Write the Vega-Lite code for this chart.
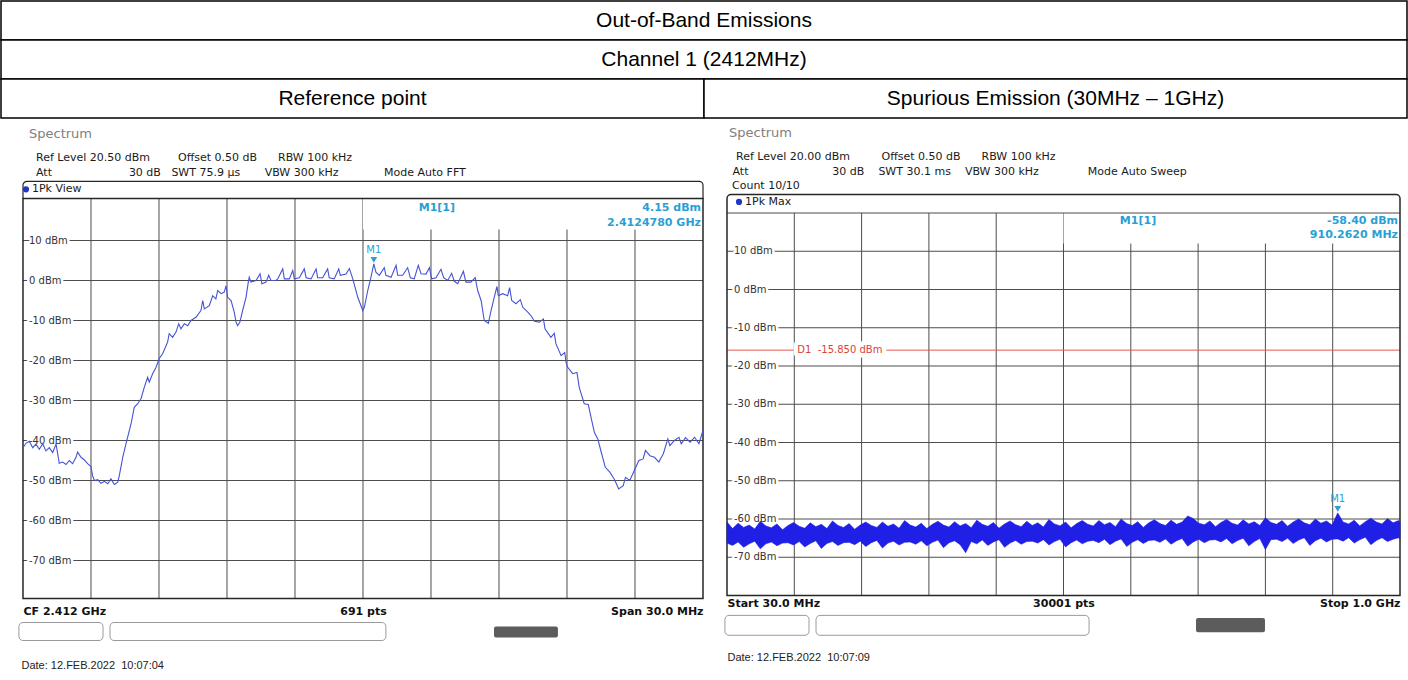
{
 "$schema": "https://vega.github.io/schema/vega-lite/v6.json",
 "background": "white",
 "padding": 0,
 "spacing": 7.5,
 "config": {"font": "DejaVu Sans", "view": {"stroke": null}},
 "datasets": {
  "cells": [
   {"row": "r1", "text": "Out-of-Band Emissions", "c0": 0, "c1": 2},
   {"row": "r2", "text": "Channel 1 (2412MHz)", "c0": 0, "c1": 2},
   {"row": "r3", "text": "Reference point", "c0": 0, "c1": 1},
   {"row": "r3", "text": "Spurious Emission (30MHz \u2013 1GHz)", "c0": 1, "c1": 2}
  ],
  "levels": [
   {"dbm": 10, "label": "10 dBm"}, {"dbm": 0, "label": "0 dBm"}, {"dbm": -10, "label": "-10 dBm"},
   {"dbm": -20, "label": "-20 dBm"}, {"dbm": -30, "label": "-30 dBm"}, {"dbm": -40, "label": "-40 dBm"},
   {"dbm": -50, "label": "-50 dBm"}, {"dbm": -60, "label": "-60 dBm"}, {"dbm": -70, "label": "-70 dBm"}
  ],
  "leftGrid": [{"f": 2400}, {"f": 2403}, {"f": 2406}, {"f": 2409}, {"f": 2412}, {"f": 2415}, {"f": 2418}, {"f": 2421}, {"f": 2424}],
  "rightGrid": [{"f": 127}, {"f": 224}, {"f": 321}, {"f": 418}, {"f": 515}, {"f": 612}, {"f": 709}, {"f": 806}, {"f": 903}],
  "leftMarker": [{"name": "M1", "f": 2412.478, "dbm": 4.15, "head": "M1[1]", "lvl": "4.15 dBm", "freq": "2.4124780 GHz"}],
  "rightMarker": [{"name": "M1", "f": 910.262, "dbm": -58.4, "head": "M1[1]", "lvl": "-58.40 dBm", "freq": "910.2620 MHz"}],
  "rightLine": [{"name": "D1", "dbm": -15.85, "label": "D1\u00a0\u00a0-15.850 dBm"}],
  "leftInfo": [{"trace": "1Pk View"}],
  "rightInfo": [{"trace": "1Pk Max", "count": "Count 10/10"}],
  "leftTrace": [
   {"f": 2397.00, "dbm": -41.8}, {"f": 2397.13, "dbm": -40.7}, {"f": 2397.28, "dbm": -40.2}, {"f": 2397.43, "dbm": -41.8},
   {"f": 2397.57, "dbm": -40.9}, {"f": 2397.72, "dbm": -42.2}, {"f": 2397.87, "dbm": -40.8}, {"f": 2398.01, "dbm": -42.6},
   {"f": 2398.16, "dbm": -41.8}, {"f": 2398.31, "dbm": -43.0}, {"f": 2398.46, "dbm": -40.9}, {"f": 2398.53, "dbm": -43.3},
   {"f": 2398.60, "dbm": -45.7}, {"f": 2398.75, "dbm": -45.4}, {"f": 2398.90, "dbm": -46.0}, {"f": 2399.04, "dbm": -45.0},
   {"f": 2399.19, "dbm": -45.8}, {"f": 2399.34, "dbm": -44.2}, {"f": 2399.41, "dbm": -42.9}, {"f": 2399.56, "dbm": -44.2},
   {"f": 2399.70, "dbm": -44.8}, {"f": 2399.85, "dbm": -45.8}, {"f": 2400.00, "dbm": -46.5}, {"f": 2400.07, "dbm": -48.8},
   {"f": 2400.15, "dbm": -50.0}, {"f": 2400.30, "dbm": -49.8}, {"f": 2400.44, "dbm": -50.7}, {"f": 2400.59, "dbm": -50.2},
   {"f": 2400.74, "dbm": -50.8}, {"f": 2400.88, "dbm": -49.6}, {"f": 2401.03, "dbm": -51.0}, {"f": 2401.18, "dbm": -50.4},
   {"f": 2401.25, "dbm": -48.8}, {"f": 2401.40, "dbm": -44.2}, {"f": 2401.54, "dbm": -40.9}, {"f": 2401.76, "dbm": -36.0},
   {"f": 2401.91, "dbm": -31.7}, {"f": 2402.06, "dbm": -30.8}, {"f": 2402.21, "dbm": -29.5}, {"f": 2402.35, "dbm": -26.7},
   {"f": 2402.50, "dbm": -24.2}, {"f": 2402.57, "dbm": -25.4}, {"f": 2402.72, "dbm": -23.3}, {"f": 2402.87, "dbm": -21.7},
   {"f": 2403.01, "dbm": -19.5}, {"f": 2403.16, "dbm": -18.3}, {"f": 2403.38, "dbm": -15.4}, {"f": 2403.45, "dbm": -13.3},
   {"f": 2403.60, "dbm": -14.2}, {"f": 2403.75, "dbm": -12.9}, {"f": 2403.87, "dbm": -10.8}, {"f": 2403.97, "dbm": -12.1},
   {"f": 2404.12, "dbm": -10.8}, {"f": 2404.27, "dbm": -11.3}, {"f": 2404.41, "dbm": -10.0}, {"f": 2404.63, "dbm": -9.2},
   {"f": 2404.85, "dbm": -7.5}, {"f": 2404.93, "dbm": -5.0}, {"f": 2405.00, "dbm": -7.1}, {"f": 2405.22, "dbm": -6.3},
   {"f": 2405.37, "dbm": -3.8}, {"f": 2405.51, "dbm": -4.6}, {"f": 2405.59, "dbm": -2.5}, {"f": 2405.74, "dbm": -3.3},
   {"f": 2405.88, "dbm": -2.9}, {"f": 2405.96, "dbm": -1.3}, {"f": 2406.03, "dbm": -4.2}, {"f": 2406.18, "dbm": -5.0},
   {"f": 2406.32, "dbm": -7.9}, {"f": 2406.40, "dbm": -10.4}, {"f": 2406.47, "dbm": -11.3}, {"f": 2406.57, "dbm": -10.4},
   {"f": 2406.69, "dbm": -7.5}, {"f": 2406.84, "dbm": -4.2}, {"f": 2406.94, "dbm": -0.4}, {"f": 2406.98, "dbm": 0.8},
   {"f": 2407.06, "dbm": -0.4}, {"f": 2407.28, "dbm": 0.0}, {"f": 2407.46, "dbm": 1.7}, {"f": 2407.54, "dbm": -0.8},
   {"f": 2407.72, "dbm": -0.4}, {"f": 2407.84, "dbm": 1.3}, {"f": 2407.94, "dbm": 0.0}, {"f": 2408.16, "dbm": 0.0},
   {"f": 2408.24, "dbm": 0.4}, {"f": 2408.46, "dbm": 2.9}, {"f": 2408.53, "dbm": 0.4}, {"f": 2408.75, "dbm": 0.4},
   {"f": 2408.90, "dbm": 2.5}, {"f": 2408.97, "dbm": 0.4}, {"f": 2409.19, "dbm": 0.7}, {"f": 2409.41, "dbm": 2.9},
   {"f": 2409.49, "dbm": 0.7}, {"f": 2409.71, "dbm": 0.4}, {"f": 2409.93, "dbm": 2.9}, {"f": 2410.00, "dbm": 0.7},
   {"f": 2410.22, "dbm": 0.7}, {"f": 2410.44, "dbm": 2.9}, {"f": 2410.51, "dbm": 0.7}, {"f": 2410.73, "dbm": 0.4},
   {"f": 2410.93, "dbm": 2.9}, {"f": 2411.00, "dbm": 1.3}, {"f": 2411.25, "dbm": 1.6}, {"f": 2411.40, "dbm": 3.0},
   {"f": 2411.55, "dbm": 0.4}, {"f": 2411.77, "dbm": -4.2}, {"f": 2411.99, "dbm": -7.5}, {"f": 2412.06, "dbm": -6.7},
   {"f": 2412.21, "dbm": -2.5}, {"f": 2412.35, "dbm": 0.8}, {"f": 2412.478, "dbm": 4.15}, {"f": 2412.57, "dbm": 2.1},
   {"f": 2412.72, "dbm": 1.3}, {"f": 2412.94, "dbm": 3.2}, {"f": 2413.01, "dbm": 1.3}, {"f": 2413.24, "dbm": 0.8},
   {"f": 2413.46, "dbm": 3.8}, {"f": 2413.53, "dbm": 1.3}, {"f": 2413.75, "dbm": 1.3}, {"f": 2413.97, "dbm": 3.2},
   {"f": 2414.09, "dbm": 0.7}, {"f": 2414.26, "dbm": 0.4}, {"f": 2414.44, "dbm": 3.8}, {"f": 2414.56, "dbm": 1.7},
   {"f": 2414.78, "dbm": 1.6}, {"f": 2414.93, "dbm": 3.2}, {"f": 2415.03, "dbm": 0.4}, {"f": 2415.22, "dbm": 0.7},
   {"f": 2415.44, "dbm": 2.8}, {"f": 2415.56, "dbm": 0.7}, {"f": 2415.74, "dbm": 0.0}, {"f": 2415.91, "dbm": 1.8},
   {"f": 2416.03, "dbm": -0.2}, {"f": 2416.18, "dbm": -0.8}, {"f": 2416.43, "dbm": 2.3}, {"f": 2416.54, "dbm": -0.4},
   {"f": 2416.76, "dbm": -0.4}, {"f": 2416.95, "dbm": 0.7}, {"f": 2417.06, "dbm": -2.5}, {"f": 2417.21, "dbm": -5.0},
   {"f": 2417.35, "dbm": -10.0}, {"f": 2417.53, "dbm": -10.7}, {"f": 2417.65, "dbm": -7.5}, {"f": 2417.79, "dbm": -4.2},
   {"f": 2417.91, "dbm": -1.5}, {"f": 2417.97, "dbm": -3.8}, {"f": 2418.16, "dbm": -3.3}, {"f": 2418.38, "dbm": -3.8},
   {"f": 2418.47, "dbm": -1.8}, {"f": 2418.56, "dbm": -5.0}, {"f": 2418.75, "dbm": -5.8}, {"f": 2418.94, "dbm": -4.8},
   {"f": 2419.05, "dbm": -6.7}, {"f": 2419.27, "dbm": -7.9}, {"f": 2419.44, "dbm": -9.0}, {"f": 2419.56, "dbm": -10.2},
   {"f": 2419.78, "dbm": -10.4}, {"f": 2419.96, "dbm": -9.6}, {"f": 2420.03, "dbm": -12.1}, {"f": 2420.29, "dbm": -14.2},
   {"f": 2420.44, "dbm": -13.2}, {"f": 2420.51, "dbm": -15.8}, {"f": 2420.74, "dbm": -18.8}, {"f": 2420.90, "dbm": -18.0},
   {"f": 2420.96, "dbm": -20.5}, {"f": 2421.03, "dbm": -21.7}, {"f": 2421.25, "dbm": -23.3}, {"f": 2421.44, "dbm": -23.0},
   {"f": 2421.54, "dbm": -26.7}, {"f": 2421.76, "dbm": -30.8}, {"f": 2421.94, "dbm": -31.0}, {"f": 2422.06, "dbm": -34.2},
   {"f": 2422.21, "dbm": -38.0}, {"f": 2422.36, "dbm": -39.6}, {"f": 2422.49, "dbm": -42.5}, {"f": 2422.69, "dbm": -46.7},
   {"f": 2422.89, "dbm": -47.9}, {"f": 2423.08, "dbm": -49.6}, {"f": 2423.18, "dbm": -50.8}, {"f": 2423.28, "dbm": -52.1},
   {"f": 2423.48, "dbm": -51.3}, {"f": 2423.58, "dbm": -49.2}, {"f": 2423.77, "dbm": -50.0}, {"f": 2423.97, "dbm": -47.5},
   {"f": 2424.17, "dbm": -45.0}, {"f": 2424.36, "dbm": -44.6}, {"f": 2424.46, "dbm": -42.5}, {"f": 2424.66, "dbm": -43.8},
   {"f": 2424.86, "dbm": -44.2}, {"f": 2425.05, "dbm": -45.4}, {"f": 2425.25, "dbm": -43.3}, {"f": 2425.45, "dbm": -39.6},
   {"f": 2425.54, "dbm": -41.3}, {"f": 2425.74, "dbm": -40.0}, {"f": 2425.94, "dbm": -39.2}, {"f": 2426.04, "dbm": -40.8},
   {"f": 2426.23, "dbm": -39.3}, {"f": 2426.43, "dbm": -40.4}, {"f": 2426.63, "dbm": -39.2}, {"f": 2426.82, "dbm": -40.8},
   {"f": 2427.00, "dbm": -37.5}
  ],
  "rightTrace": [
   {"f": 30, "hi": -60.8, "lo": -66.3}, {"f": 38, "hi": -62.5, "lo": -66.9}, {"f": 46, "hi": -61.1, "lo": -66.0}, {"f": 54, "hi": -62.2, "lo": -67.4},
   {"f": 62, "hi": -61.6, "lo": -66.5}, {"f": 70, "hi": -62.6, "lo": -65.8}, {"f": 78, "hi": -60.6, "lo": -67.8}, {"f": 86, "hi": -61.8, "lo": -66.5},
   {"f": 94, "hi": -62.3, "lo": -66.0}, {"f": 102, "hi": -61.3, "lo": -67.0}, {"f": 110, "hi": -62.8, "lo": -66.3}, {"f": 118, "hi": -61.7, "lo": -66.2},
   {"f": 126, "hi": -60.9, "lo": -66.8}, {"f": 134, "hi": -61.9, "lo": -65.9}, {"f": 142, "hi": -62.4, "lo": -67.3}, {"f": 150, "hi": -61.0, "lo": -66.4},
   {"f": 158, "hi": -62.0, "lo": -65.7}, {"f": 166, "hi": -61.4, "lo": -67.7}, {"f": 174, "hi": -62.5, "lo": -66.4}, {"f": 182, "hi": -60.5, "lo": -65.9},
   {"f": 190, "hi": -61.7, "lo": -66.9}, {"f": 198, "hi": -62.2, "lo": -66.2}, {"f": 206, "hi": -61.2, "lo": -66.1}, {"f": 214, "hi": -62.7, "lo": -66.7},
   {"f": 222, "hi": -61.6, "lo": -65.8}, {"f": 230, "hi": -60.8, "lo": -67.2}, {"f": 238, "hi": -61.7, "lo": -66.2}, {"f": 246, "hi": -62.2, "lo": -65.6},
   {"f": 254, "hi": -60.8, "lo": -67.6}, {"f": 262, "hi": -61.9, "lo": -66.3}, {"f": 270, "hi": -61.3, "lo": -65.8}, {"f": 278, "hi": -62.4, "lo": -66.8},
   {"f": 286, "hi": -60.4, "lo": -66.1}, {"f": 294, "hi": -61.6, "lo": -66.0}, {"f": 302, "hi": -62.1, "lo": -66.6}, {"f": 310, "hi": -61.1, "lo": -65.7},
   {"f": 318, "hi": -62.5, "lo": -67.0}, {"f": 326, "hi": -61.4, "lo": -66.1}, {"f": 334, "hi": -60.6, "lo": -65.5}, {"f": 342, "hi": -61.6, "lo": -67.5},
   {"f": 350, "hi": -62.1, "lo": -66.2}, {"f": 358, "hi": -60.7, "lo": -65.7}, {"f": 366, "hi": -61.8, "lo": -66.7}, {"f": 374, "hi": -61.2, "lo": -68.8},
   {"f": 382, "hi": -62.3, "lo": -65.9}, {"f": 390, "hi": -60.3, "lo": -66.5}, {"f": 398, "hi": -61.4, "lo": -65.5}, {"f": 406, "hi": -61.9, "lo": -66.9},
   {"f": 414, "hi": -60.9, "lo": -66.0}, {"f": 422, "hi": -62.4, "lo": -65.4}, {"f": 430, "hi": -61.3, "lo": -67.4}, {"f": 438, "hi": -60.5, "lo": -66.3},
   {"f": 446, "hi": -61.5, "lo": -65.6}, {"f": 454, "hi": -62.0, "lo": -66.6}, {"f": 462, "hi": -60.6, "lo": -65.9}, {"f": 470, "hi": -61.7, "lo": -65.8},
   {"f": 478, "hi": -61.0, "lo": -66.3}, {"f": 486, "hi": -62.1, "lo": -65.4}, {"f": 494, "hi": -60.1, "lo": -66.8}, {"f": 502, "hi": -61.3, "lo": -65.9},
   {"f": 510, "hi": -61.8, "lo": -65.3}, {"f": 518, "hi": -60.8, "lo": -67.3}, {"f": 526, "hi": -62.3, "lo": -66.2}, {"f": 534, "hi": -61.2, "lo": -65.5},
   {"f": 542, "hi": -60.4, "lo": -66.5}, {"f": 550, "hi": -61.4, "lo": -65.8}, {"f": 558, "hi": -61.8, "lo": -65.6}, {"f": 566, "hi": -60.4, "lo": -66.2},
   {"f": 574, "hi": -61.5, "lo": -65.3}, {"f": 582, "hi": -60.9, "lo": -66.7}, {"f": 590, "hi": -62.0, "lo": -65.8}, {"f": 598, "hi": -60.0, "lo": -65.2},
   {"f": 606, "hi": -61.2, "lo": -67.2}, {"f": 614, "hi": -61.7, "lo": -66.1}, {"f": 622, "hi": -60.7, "lo": -65.4}, {"f": 630, "hi": -62.2, "lo": -66.4},
   {"f": 638, "hi": -61.0, "lo": -65.6}, {"f": 646, "hi": -60.2, "lo": -65.5}, {"f": 654, "hi": -61.2, "lo": -66.1}, {"f": 662, "hi": -61.7, "lo": -65.2},
   {"f": 670, "hi": -60.3, "lo": -66.6}, {"f": 678, "hi": -61.4, "lo": -65.7}, {"f": 686, "hi": -60.8, "lo": -65.1}, {"f": 694, "hi": -59.2, "lo": -67.1},
   {"f": 702, "hi": -59.9, "lo": -66.0}, {"f": 710, "hi": -61.1, "lo": -65.3}, {"f": 718, "hi": -61.5, "lo": -66.2}, {"f": 726, "hi": -60.5, "lo": -65.5},
   {"f": 734, "hi": -62.0, "lo": -65.4}, {"f": 742, "hi": -60.9, "lo": -66.0}, {"f": 750, "hi": -60.1, "lo": -65.1}, {"f": 758, "hi": -61.1, "lo": -66.5},
   {"f": 766, "hi": -61.6, "lo": -65.6}, {"f": 774, "hi": -60.2, "lo": -65.0}, {"f": 782, "hi": -61.3, "lo": -67.0}, {"f": 790, "hi": -60.7, "lo": -65.9},
   {"f": 798, "hi": -61.7, "lo": -65.1}, {"f": 806, "hi": -59.7, "lo": -68.0}, {"f": 814, "hi": -60.9, "lo": -65.4}, {"f": 822, "hi": -61.4, "lo": -65.3},
   {"f": 830, "hi": -60.4, "lo": -65.9}, {"f": 838, "hi": -61.9, "lo": -65.0}, {"f": 846, "hi": -60.8, "lo": -66.4}, {"f": 854, "hi": -60.0, "lo": -65.5},
   {"f": 862, "hi": -61.0, "lo": -64.9}, {"f": 870, "hi": -61.5, "lo": -66.9}, {"f": 878, "hi": -60.0, "lo": -65.7}, {"f": 886, "hi": -61.1, "lo": -65.0},
   {"f": 894, "hi": -60.5, "lo": -66.0}, {"f": 902, "hi": -61.6, "lo": -65.3}, {"f": 910.262, "hi": -58.4, "lo": -65.2}, {"f": 918, "hi": -60.8, "lo": -65.8},
   {"f": 926, "hi": -61.3, "lo": -64.9}, {"f": 934, "hi": -60.3, "lo": -66.3}, {"f": 942, "hi": -61.8, "lo": -65.4}, {"f": 950, "hi": -60.7, "lo": -64.8},
   {"f": 958, "hi": -59.8, "lo": -66.7}, {"f": 966, "hi": -60.8, "lo": -65.6}, {"f": 974, "hi": -61.3, "lo": -64.9}, {"f": 982, "hi": -59.9, "lo": -65.9},
   {"f": 990, "hi": -61.0, "lo": -65.3}, {"f": 998, "hi": -60.4, "lo": -64.9}, {"f": 1000, "hi": -60.8, "lo": -65.3}
  ]
 },
 "vconcat": [
  {
   "width": 1406,
   "height": 117,
   "data": {"name": "cells"},
   "transform": [{"calculate": "(datum.c0 + datum.c1) / 2", "as": "cx"}],
   "layer": [
    {"mark": {"type": "rect", "fill": "white", "stroke": "black", "strokeWidth": 1.5},
     "encoding": {
      "x": {"field": "c0", "type": "quantitative", "scale": {"domain": [0, 2], "nice": false, "zero": false}, "axis": null},
      "x2": {"field": "c1"},
      "y": {"field": "row", "type": "nominal", "scale": {"paddingInner": 0, "paddingOuter": 0}, "axis": null}
     }},
    {"mark": {"type": "text", "font": "Liberation Sans", "fontSize": 21, "color": "black", "baseline": "middle", "align": "center"},
     "encoding": {
      "x": {"field": "cx", "type": "quantitative", "scale": {"domain": [0, 2], "nice": false, "zero": false}, "axis": null},
      "y": {"field": "row", "type": "nominal", "axis": null},
      "text": {"field": "text"}
     }}
   ]
  },
  {
   "spacing": 5,
   "hconcat": [
    {
     "width": 702,
     "height": 418,
     "title": {
      "text": "Spectrum",
      "subtitle": [
       "\u200b\u00a0\u00a0Ref Level 20.50 dBm\u00a0\u00a0\u00a0\u00a0\u00a0\u00a0\u00a0\u00a0Offset 0.50 dB\u00a0\u00a0\u00a0\u00a0\u00a0\u00a0RBW 100 kHz",
       "\u200b\u00a0\u00a0Att\u00a0\u00a0\u00a0\u00a0\u00a0\u00a0\u00a0\u00a0\u00a0\u00a0\u00a0\u00a0\u00a0\u00a0\u00a0\u00a0\u00a0\u00a0\u00a0\u00a0\u00a0\u00a030 dB\u00a0\u00a0\u00a0SWT 75.9 \u00b5s\u00a0\u00a0\u00a0\u00a0\u00a0\u00a0\u00a0VBW 300 kHz\u00a0\u00a0\u00a0\u00a0\u00a0\u00a0\u00a0\u00a0\u00a0\u00a0\u00a0\u00a0\u00a0Mode Auto FFT"
      ],
      "anchor": "start", "frame": "group", "dx": 28, "offset": 3,
      "font": "DejaVu Sans", "fontSize": 13, "fontWeight": "normal", "color": "#808080",
      "subtitleFont": "DejaVu Sans", "subtitleFontSize": 11, "subtitleColor": "#1a1a1a",
      "subtitleLineHeight": 14.5, "subtitlePadding": 11
     },
     "layer": [
      {"data": {"name": "leftGrid"}, "mark": {"type": "rule", "color": "#4d4d4d", "strokeWidth": 1},
       "encoding": {
        "x": {"field": "f", "type": "quantitative", "scale": {"domain": [2396.03, 2427], "nice": false, "zero": false},
         "axis": {"values": [2397, 2412, 2427], "labelExpr": "datum.value == 2397 ? 'CF 2.412 GHz' : (datum.value == 2412 ? '691 pts' : 'Span 30.0 MHz')",
          "labelFlush": 30, "labelOverlap": false, "labelFont": "DejaVu Sans", "labelFontWeight": "bold", "labelFontSize": 11, "labelColor": "#111111", "labelPadding": 7,
          "ticks": false, "domain": false, "grid": false,
          "title": "Date: 12.FEB.2022\u00a0\u00a010:07:04", "titleFont": "Liberation Sans", "titleFontSize": 11, "titleFontWeight": "normal", "titleColor": "#222222",
          "titleAnchor": "start", "titleAlign": "left", "titleX": 20, "titlePadding": 43}},
        "y": {"datum": 20.5, "type": "quantitative", "scale": {"domain": [-79.5, 25], "nice": false, "zero": false},
         "axis": {"title": null, "labels": false, "ticks": false, "domain": false, "grid": false, "minExtent": 0, "maxExtent": 0}},
        "y2": {"datum": -79.5}
       }},
      {"data": {"name": "levels"}, "mark": {"type": "rule", "color": "#4d4d4d", "strokeWidth": 1},
       "encoding": {
        "x": {"datum": 2397, "type": "quantitative", "scale": {"domain": [2396.03, 2427], "nice": false, "zero": false}},
        "x2": {"datum": 2427},
        "y": {"field": "dbm", "type": "quantitative", "scale": {"domain": [-79.5, 25], "nice": false, "zero": false}}}},
      {"data": {"values": [{}]}, "mark": {"type": "rect", "color": "white"},
       "encoding": {
        "x": {"datum": 2412, "type": "quantitative", "scale": {"domain": [2396.03, 2427], "nice": false, "zero": false}},
        "x2": {"datum": 2427},
        "y": {"datum": 20.5, "type": "quantitative", "scale": {"domain": [-79.5, 25], "nice": false, "zero": false}},
        "y2": {"datum": 12.75}
       }},
      {"data": {"values": [{}]}, "mark": {"type": "rect", "fill": "white", "fillOpacity": 0, "stroke": "#262626", "strokeWidth": 1.5},
       "encoding": {
        "x": {"datum": 2397, "type": "quantitative", "scale": {"domain": [2396.03, 2427], "nice": false, "zero": false}},
        "x2": {"datum": 2427},
        "y": {"datum": 20.5, "type": "quantitative", "scale": {"domain": [-79.5, 25], "nice": false, "zero": false}},
        "y2": {"datum": -79.5}
       }},
      {"data": {"values": [{}]}, "mark": {"type": "rect", "fill": "white", "fillOpacity": 0, "stroke": "#262626", "strokeWidth": 1.2, "cornerRadiusTopLeft": 4, "cornerRadiusTopRight": 4},
       "encoding": {
        "x": {"datum": 2397, "type": "quantitative", "scale": {"domain": [2396.03, 2427], "nice": false, "zero": false}},
        "x2": {"datum": 2427},
        "y": {"datum": 24.8, "type": "quantitative", "scale": {"domain": [-79.5, 25], "nice": false, "zero": false}},
        "y2": {"datum": 20.5}
       }},
      {"data": {"values": [{}]}, "mark": {"type": "rect", "fill": "white", "stroke": "#9a9a9a", "strokeWidth": 1, "cornerRadius": 4},
       "encoding": {
        "x": {"datum": 2396.82, "type": "quantitative", "scale": {"domain": [2396.03, 2427], "nice": false, "zero": false}},
        "x2": {"datum": 2400.53},
        "y": {"datum": -85.5, "type": "quantitative", "scale": {"domain": [-79.5, 25], "nice": false, "zero": false}},
        "y2": {"datum": -90}
       }},
      {"data": {"values": [{}]}, "mark": {"type": "rect", "fill": "white", "stroke": "#9a9a9a", "strokeWidth": 1, "cornerRadius": 4},
       "encoding": {
        "x": {"datum": 2400.84, "type": "quantitative", "scale": {"domain": [2396.03, 2427], "nice": false, "zero": false}},
        "x2": {"datum": 2413.01},
        "y": {"datum": -85.5, "type": "quantitative", "scale": {"domain": [-79.5, 25], "nice": false, "zero": false}},
        "y2": {"datum": -90}
       }},
      {"data": {"values": [{}]}, "mark": {"type": "rect", "fill": "#5c5c5c", "cornerRadius": 2},
       "encoding": {
        "x": {"datum": 2417.78, "type": "quantitative", "scale": {"domain": [2396.03, 2427], "nice": false, "zero": false}},
        "x2": {"datum": 2420.6},
        "y": {"datum": -86.5, "type": "quantitative", "scale": {"domain": [-79.5, 25], "nice": false, "zero": false}},
        "y2": {"datum": -89.25}
       }},
      {"data": {"name": "leftInfo"}, "mark": {"type": "point", "shape": "circle", "filled": true, "size": 38, "color": "#2434c8", "opacity": 1, "xOffset": 3},
       "encoding": {
        "x": {"datum": 2397, "type": "quantitative", "scale": {"domain": [2396.03, 2427], "nice": false, "zero": false}},
        "y": {"datum": 22.8, "type": "quantitative", "scale": {"domain": [-79.5, 25], "nice": false, "zero": false}}
       }},
      {"data": {"name": "leftInfo"}, "mark": {"type": "text", "align": "left", "baseline": "middle", "dx": 9, "fontSize": 11, "color": "#1a1a1a"},
       "encoding": {
        "x": {"datum": 2397, "type": "quantitative", "scale": {"domain": [2396.03, 2427], "nice": false, "zero": false}},
        "y": {"datum": 22.8, "type": "quantitative", "scale": {"domain": [-79.5, 25], "nice": false, "zero": false}},
        "text": {"field": "trace"}
       }},
      {"data": {"name": "levels"}, "mark": {"type": "text", "align": "left", "baseline": "middle", "dx": 6, "fontSize": 10, "fill": "white", "stroke": "white", "strokeWidth": 5, "strokeJoin": "round"},
       "encoding": {
        "x": {"datum": 2397, "type": "quantitative", "scale": {"domain": [2396.03, 2427], "nice": false, "zero": false}},
        "y": {"field": "dbm", "type": "quantitative", "scale": {"domain": [-79.5, 25], "nice": false, "zero": false}},
        "text": {"field": "label"}
       }},
      {"data": {"name": "levels"}, "mark": {"type": "text", "align": "left", "baseline": "middle", "dx": 6, "fontSize": 10, "color": "#333333"},
       "encoding": {
        "x": {"datum": 2397, "type": "quantitative", "scale": {"domain": [2396.03, 2427], "nice": false, "zero": false}},
        "y": {"field": "dbm", "type": "quantitative", "scale": {"domain": [-79.5, 25], "nice": false, "zero": false}},
        "text": {"field": "label"}
       }},
      {"data": {"name": "leftTrace"}, "mark": {"type": "line", "color": "#4653d4", "strokeWidth": 1.1, "interpolate": "linear"},
       "encoding": {
        "x": {"field": "f", "type": "quantitative", "scale": {"domain": [2396.03, 2427], "nice": false, "zero": false}},
        "y": {"field": "dbm", "type": "quantitative", "scale": {"domain": [-79.5, 25], "nice": false, "zero": false}}
       }},
      {"data": {"name": "leftMarker"}, "mark": {"type": "point", "shape": "triangle-down", "filled": true, "size": 45, "color": "#2a9fd6", "opacity": 1, "yOffset": -4},
       "encoding": {
        "x": {"field": "f", "type": "quantitative", "scale": {"domain": [2396.03, 2427], "nice": false, "zero": false}},
        "y": {"field": "dbm", "type": "quantitative", "scale": {"domain": [-79.5, 25], "nice": false, "zero": false}}
       }},
      {"data": {"name": "leftMarker"}, "mark": {"type": "text", "color": "#2a9fd6", "fontSize": 10, "dy": -14, "align": "center"},
       "encoding": {
        "x": {"field": "f", "type": "quantitative", "scale": {"domain": [2396.03, 2427], "nice": false, "zero": false}},
        "y": {"field": "dbm", "type": "quantitative", "scale": {"domain": [-79.5, 25], "nice": false, "zero": false}},
        "text": {"field": "name"}
       }},
      {"data": {"name": "leftMarker"}, "mark": {"type": "text", "color": "#2a9fd6", "fontSize": 11, "fontWeight": "bold", "align": "center", "baseline": "middle"},
       "encoding": {
        "x": {"datum": 2415.26, "type": "quantitative", "scale": {"domain": [2396.03, 2427], "nice": false, "zero": false}},
        "y": {"datum": 18.25, "type": "quantitative", "scale": {"domain": [-79.5, 25], "nice": false, "zero": false}},
        "text": {"field": "head"}
       }},
      {"data": {"name": "leftMarker"}, "mark": {"type": "text", "color": "#2a9fd6", "fontSize": 11, "fontWeight": "bold", "align": "right", "baseline": "middle", "dx": -2},
       "encoding": {
        "x": {"datum": 2427, "type": "quantitative", "scale": {"domain": [2396.03, 2427], "nice": false, "zero": false}},
        "y": {"datum": 18.25, "type": "quantitative", "scale": {"domain": [-79.5, 25], "nice": false, "zero": false}},
        "text": {"field": "lvl"}
       }},
      {"data": {"name": "leftMarker"}, "mark": {"type": "text", "color": "#2a9fd6", "fontSize": 11, "fontWeight": "bold", "align": "right", "baseline": "middle", "dx": -2},
       "encoding": {
        "x": {"datum": 2427, "type": "quantitative", "scale": {"domain": [2396.03, 2427], "nice": false, "zero": false}},
        "y": {"datum": 14.5, "type": "quantitative", "scale": {"domain": [-79.5, 25], "nice": false, "zero": false}},
        "text": {"field": "freq"}
       }}
     ]
    },
    {
     "width": 673,
     "height": 415,
     "title": {
      "text": "Spectrum",
      "subtitle": [
       "\u200b\u00a0\u00a0Ref Level 20.00 dBm\u00a0\u00a0\u00a0\u00a0\u00a0\u00a0\u00a0\u00a0\u00a0Offset 0.50 dB\u00a0\u00a0\u00a0\u00a0\u00a0\u00a0RBW 100 kHz",
       "\u200b\u00a0Att\u00a0\u00a0\u00a0\u00a0\u00a0\u00a0\u00a0\u00a0\u00a0\u00a0\u00a0\u00a0\u00a0\u00a0\u00a0\u00a0\u00a0\u00a0\u00a0\u00a0\u00a0\u00a0\u00a0\u00a030 dB\u00a0\u00a0\u00a0\u00a0SWT 30.1 ms\u00a0\u00a0\u00a0\u00a0VBW 300 kHz\u00a0\u00a0\u00a0\u00a0\u00a0\u00a0\u00a0\u00a0\u00a0\u00a0\u00a0\u00a0\u00a0\u00a0Mode Auto Sweep"
      ],
      "anchor": "start", "frame": "group", "dx": 2, "offset": 3,
      "font": "DejaVu Sans", "fontSize": 13, "fontWeight": "normal", "color": "#808080",
      "subtitleFont": "DejaVu Sans", "subtitleFontSize": 11, "subtitleColor": "#1a1a1a",
      "subtitleLineHeight": 14.5, "subtitlePadding": 11
     },
     "layer": [
      {"data": {"name": "rightGrid"}, "mark": {"type": "rule", "color": "#4d4d4d", "strokeWidth": 1},
       "encoding": {
        "x": {"field": "f", "type": "quantitative", "scale": {"domain": [30, 1000], "nice": false, "zero": false},
         "axis": {"values": [30, 515, 1000], "labelExpr": "datum.value == 30 ? 'Start 30.0 MHz' : (datum.value == 515 ? '30001 pts' : 'Stop 1.0 GHz')",
          "labelFlush": true, "labelOverlap": false, "labelFont": "DejaVu Sans", "labelFontWeight": "bold", "labelFontSize": 11, "labelColor": "#111111", "labelPadding": 2,
          "ticks": false, "domain": false, "grid": false,
          "title": "Date: 12.FEB.2022\u00a0\u00a010:07:09", "titleFont": "Liberation Sans", "titleFontSize": 11, "titleFontWeight": "normal", "titleColor": "#222222",
          "titleAnchor": "start", "titleAlign": "left", "titlePadding": 43}},
        "y": {"datum": 20, "type": "quantitative", "scale": {"domain": [-80, 28.5], "nice": false, "zero": false},
         "axis": {"title": null, "labels": false, "ticks": false, "domain": false, "grid": false, "minExtent": 16, "maxExtent": 16}},
        "y2": {"datum": -80}
       }},
      {"data": {"name": "levels"}, "mark": {"type": "rule", "color": "#4d4d4d", "strokeWidth": 1},
       "encoding": {
        "x": {"datum": 30, "type": "quantitative", "scale": {"domain": [30, 1000], "nice": false, "zero": false}},
        "x2": {"datum": 1000},
        "y": {"field": "dbm", "type": "quantitative", "scale": {"domain": [-80, 28.5], "nice": false, "zero": false}}}},
      {"data": {"name": "rightLine"}, "mark": {"type": "rule", "color": "#e4574e", "strokeWidth": 1},
       "encoding": {
        "x": {"datum": 30, "type": "quantitative", "scale": {"domain": [30, 1000], "nice": false, "zero": false}},
        "x2": {"datum": 1000},
        "y": {"field": "dbm", "type": "quantitative", "scale": {"domain": [-80, 28.5], "nice": false, "zero": false}}}},
      {"data": {"values": [{}]}, "mark": {"type": "rect", "color": "white"},
       "encoding": {
        "x": {"datum": 515, "type": "quantitative", "scale": {"domain": [30, 1000], "nice": false, "zero": false}},
        "x2": {"datum": 1000},
        "y": {"datum": 20, "type": "quantitative", "scale": {"domain": [-80, 28.5], "nice": false, "zero": false}},
        "y2": {"datum": 12}
       }},
      {"data": {"values": [{}]}, "mark": {"type": "rule", "color": "#4d4d4d", "strokeWidth": 1},
       "encoding": {
        "x": {"datum": 30, "type": "quantitative", "scale": {"domain": [30, 1000], "nice": false, "zero": false}},
        "x2": {"datum": 1000},
        "y": {"datum": 20, "type": "quantitative", "scale": {"domain": [-80, 28.5], "nice": false, "zero": false}}}},
      {"data": {"values": [{}]}, "mark": {"type": "rect", "fill": "white", "fillOpacity": 0, "stroke": "#262626", "strokeWidth": 1.5, "cornerRadiusTopLeft": 4, "cornerRadiusTopRight": 4},
       "encoding": {
        "x": {"datum": 30, "type": "quantitative", "scale": {"domain": [30, 1000], "nice": false, "zero": false}},
        "x2": {"datum": 1000},
        "y": {"datum": 24.84, "type": "quantitative", "scale": {"domain": [-80, 28.5], "nice": false, "zero": false}},
        "y2": {"datum": -80}
       }},
      {"data": {"values": [{}]}, "mark": {"type": "rect", "fill": "white", "stroke": "#9a9a9a", "strokeWidth": 1, "cornerRadius": 4},
       "encoding": {
        "x": {"datum": 27, "type": "quantitative", "scale": {"domain": [30, 1000], "nice": false, "zero": false}},
        "x2": {"datum": 148.2},
        "y": {"datum": -85.2, "type": "quantitative", "scale": {"domain": [-80, 28.5], "nice": false, "zero": false}},
        "y2": {"datum": -90.4}
       }},
      {"data": {"values": [{}]}, "mark": {"type": "rect", "fill": "white", "stroke": "#9a9a9a", "strokeWidth": 1, "cornerRadius": 4},
       "encoding": {
        "x": {"datum": 158.3, "type": "quantitative", "scale": {"domain": [30, 1000], "nice": false, "zero": false}},
        "x2": {"datum": 551.8},
        "y": {"datum": -85.2, "type": "quantitative", "scale": {"domain": [-80, 28.5], "nice": false, "zero": false}},
        "y2": {"datum": -90.4}
       }},
      {"data": {"values": [{}]}, "mark": {"type": "rect", "fill": "#5c5c5c", "cornerRadius": 2},
       "encoding": {
        "x": {"datum": 706, "type": "quantitative", "scale": {"domain": [30, 1000], "nice": false, "zero": false}},
        "x2": {"datum": 805.4},
        "y": {"datum": -85.9, "type": "quantitative", "scale": {"domain": [-80, 28.5], "nice": false, "zero": false}},
        "y2": {"datum": -89.6}
       }},
      {"data": {"name": "rightInfo"}, "mark": {"type": "text", "align": "left", "baseline": "middle", "dx": 5, "fontSize": 11, "color": "#1a1a1a"},
       "encoding": {
        "x": {"datum": 30, "type": "quantitative", "scale": {"domain": [30, 1000], "nice": false, "zero": false}},
        "y": {"datum": 27.19, "type": "quantitative", "scale": {"domain": [-80, 28.5], "nice": false, "zero": false}},
        "text": {"field": "count"}
       }},
      {"data": {"name": "rightInfo"}, "mark": {"type": "point", "shape": "circle", "filled": true, "size": 38, "color": "#2434c8", "opacity": 1, "xOffset": 12},
       "encoding": {
        "x": {"datum": 30, "type": "quantitative", "scale": {"domain": [30, 1000], "nice": false, "zero": false}},
        "y": {"datum": 22.9, "type": "quantitative", "scale": {"domain": [-80, 28.5], "nice": false, "zero": false}}
       }},
      {"data": {"name": "rightInfo"}, "mark": {"type": "text", "align": "left", "baseline": "middle", "dx": 18, "fontSize": 11, "color": "#1a1a1a"},
       "encoding": {
        "x": {"datum": 30, "type": "quantitative", "scale": {"domain": [30, 1000], "nice": false, "zero": false}},
        "y": {"datum": 22.9, "type": "quantitative", "scale": {"domain": [-80, 28.5], "nice": false, "zero": false}},
        "text": {"field": "trace"}
       }},
      {"data": {"name": "levels"}, "mark": {"type": "text", "align": "left", "baseline": "middle", "dx": 7, "fontSize": 10, "fill": "white", "stroke": "white", "strokeWidth": 5, "strokeJoin": "round"},
       "encoding": {
        "x": {"datum": 30, "type": "quantitative", "scale": {"domain": [30, 1000], "nice": false, "zero": false}},
        "y": {"field": "dbm", "type": "quantitative", "scale": {"domain": [-80, 28.5], "nice": false, "zero": false}},
        "text": {"field": "label"}
       }},
      {"data": {"name": "levels"}, "mark": {"type": "text", "align": "left", "baseline": "middle", "dx": 7, "fontSize": 10, "color": "#333333"},
       "encoding": {
        "x": {"datum": 30, "type": "quantitative", "scale": {"domain": [30, 1000], "nice": false, "zero": false}},
        "y": {"field": "dbm", "type": "quantitative", "scale": {"domain": [-80, 28.5], "nice": false, "zero": false}},
        "text": {"field": "label"}
       }},
      {"data": {"name": "rightLine"}, "mark": {"type": "text", "align": "left", "baseline": "middle", "dx": 3, "fontSize": 10, "fill": "white", "stroke": "white", "strokeWidth": 9, "strokeJoin": "round"},
       "encoding": {
        "x": {"datum": 127, "type": "quantitative", "scale": {"domain": [30, 1000], "nice": false, "zero": false}},
        "y": {"field": "dbm", "type": "quantitative", "scale": {"domain": [-80, 28.5], "nice": false, "zero": false}},
        "text": {"field": "label"}
       }},
      {"data": {"name": "rightLine"}, "mark": {"type": "text", "align": "left", "baseline": "middle", "dx": 3, "fontSize": 10, "color": "#d9433a"},
       "encoding": {
        "x": {"datum": 127, "type": "quantitative", "scale": {"domain": [30, 1000], "nice": false, "zero": false}},
        "y": {"field": "dbm", "type": "quantitative", "scale": {"domain": [-80, 28.5], "nice": false, "zero": false}},
        "text": {"field": "label"}
       }},
      {"data": {"name": "rightTrace"}, "mark": {"type": "area", "color": "#1f1fe6", "opacity": 1, "stroke": "#1f1fe6", "strokeWidth": 0.6, "interpolate": "linear"},
       "encoding": {
        "x": {"field": "f", "type": "quantitative", "scale": {"domain": [30, 1000], "nice": false, "zero": false}},
        "y": {"field": "hi", "type": "quantitative", "scale": {"domain": [-80, 28.5], "nice": false, "zero": false}},
        "y2": {"field": "lo"}
       }},
      {"data": {"name": "rightMarker"}, "mark": {"type": "point", "shape": "triangle-down", "filled": true, "size": 45, "color": "#2a9fd6", "opacity": 1, "yOffset": -4},
       "encoding": {
        "x": {"field": "f", "type": "quantitative", "scale": {"domain": [30, 1000], "nice": false, "zero": false}},
        "y": {"field": "dbm", "type": "quantitative", "scale": {"domain": [-80, 28.5], "nice": false, "zero": false}}
       }},
      {"data": {"name": "rightMarker"}, "mark": {"type": "text", "color": "#2a9fd6", "fontSize": 10, "dy": -14, "align": "center"},
       "encoding": {
        "x": {"field": "f", "type": "quantitative", "scale": {"domain": [30, 1000], "nice": false, "zero": false}},
        "y": {"field": "dbm", "type": "quantitative", "scale": {"domain": [-80, 28.5], "nice": false, "zero": false}},
        "text": {"field": "name"}
       }},
      {"data": {"name": "rightMarker"}, "mark": {"type": "text", "color": "#2a9fd6", "fontSize": 11, "fontWeight": "bold", "align": "center", "baseline": "middle"},
       "encoding": {
        "x": {"datum": 622.4, "type": "quantitative", "scale": {"domain": [30, 1000], "nice": false, "zero": false}},
        "y": {"datum": 18.04, "type": "quantitative", "scale": {"domain": [-80, 28.5], "nice": false, "zero": false}},
        "text": {"field": "head"}
       }},
      {"data": {"name": "rightMarker"}, "mark": {"type": "text", "color": "#2a9fd6", "fontSize": 11, "fontWeight": "bold", "align": "right", "baseline": "middle", "dx": -2},
       "encoding": {
        "x": {"datum": 1000, "type": "quantitative", "scale": {"domain": [30, 1000], "nice": false, "zero": false}},
        "y": {"datum": 18.04, "type": "quantitative", "scale": {"domain": [-80, 28.5], "nice": false, "zero": false}},
        "text": {"field": "lvl"}
       }},
      {"data": {"name": "rightMarker"}, "mark": {"type": "text", "color": "#2a9fd6", "fontSize": 11, "fontWeight": "bold", "align": "right", "baseline": "middle", "dx": -2},
       "encoding": {
        "x": {"datum": 1000, "type": "quantitative", "scale": {"domain": [30, 1000], "nice": false, "zero": false}},
        "y": {"datum": 14.13, "type": "quantitative", "scale": {"domain": [-80, 28.5], "nice": false, "zero": false}},
        "text": {"field": "freq"}
       }}
     ]
    }
   ]
  }
 ]
}
